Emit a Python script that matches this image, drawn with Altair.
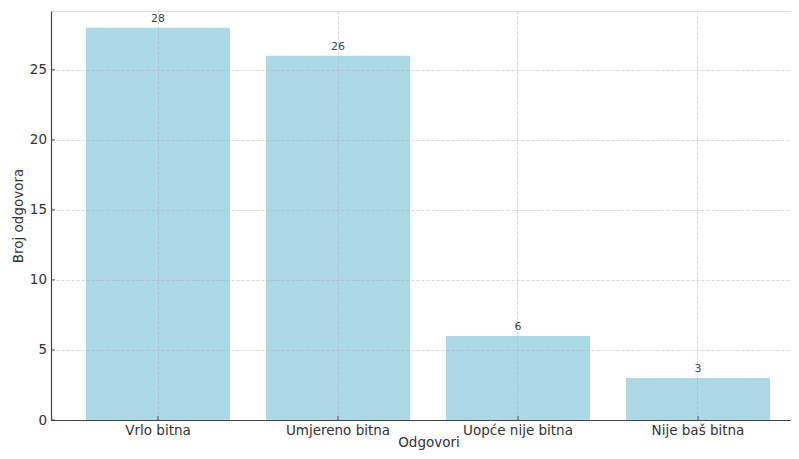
import altair as alt
import pandas as pd

categories = ["Vrlo bitna", "Umjereno bitna", "Uopće nije bitna", "Nije baš bitna"]
counts = [28, 26, 6, 3]
y_ticks = [0, 5, 10, 15, 20, 25]

df = pd.DataFrame({"Odgovori": categories, "Broj": counts})
ticks_df = pd.DataFrame({"t": y_ticks})

FONT = "DejaVu Sans"
TXT = "#333333"

x_scale = alt.Scale(domain=categories, paddingInner=0.2, paddingOuter=0.1556, align=0.625)
y_scale = alt.Scale(domain=[0, 29.2], nice=False, zero=True)

x_axis = alt.Axis(
    title="Odgovori", labelAngle=0, labelFont=FONT, labelFontSize=13.5, labelColor=TXT,
    titleFont=FONT, titleFontSize=13.5, titleColor=TXT, titleFontWeight="normal",
    ticks=False, tickSize=0, labelPadding=3, domainColor="#444444", domainWidth=1.2,
    grid=True, gridColor="#aaaaaa", gridOpacity=0.6, gridDash=[3, 2], gridWidth=0.8,
    titleY=26, titleBaseline="alphabetic", titleX=377.5, titleAlign="center", zindex=1,
)
y_axis = alt.Axis(
    title="Broj odgovora", values=y_ticks, labelFont=FONT, labelFontSize=13.5, labelColor=TXT,
    titleFont=FONT, titleFontSize=13.5, titleColor=TXT, titleFontWeight="normal",
    ticks=False, tickSize=0, labelPadding=4.5, domainColor="#444444", domainWidth=1.2,
    grid=True, gridColor="#aaaaaa", gridOpacity=0.6, gridDash=[3, 2], gridWidth=0.8,
    titleX=-29, titleBaseline="alphabetic", zindex=1,
)

bars = alt.Chart(df).mark_bar(color="#ADD8E6").encode(
    x=alt.X("Odgovori:N", scale=x_scale, axis=x_axis, sort=categories),
    y=alt.Y("Broj:Q", scale=y_scale, axis=y_axis),
)

labels = alt.Chart(df).mark_text(
    baseline="alphabetic", dy=-6, font=FONT, fontSize=11, color="#444444"
).encode(
    x=alt.X("Odgovori:N", scale=x_scale, sort=categories),
    y=alt.Y("Broj:Q", scale=y_scale),
    text="Broj:Q",
)

ytick_marks = alt.Chart(ticks_df).mark_rule(color="#444444", strokeWidth=1).encode(
    y=alt.Y("t:Q", scale=y_scale), x=alt.value(0), x2=alt.value(4)
)

xtick_marks = alt.Chart(df).mark_rule(color="#444444", strokeWidth=1).encode(
    x=alt.X("Odgovori:N", scale=x_scale, sort=categories), y=alt.value(409), y2=alt.value(405)
)

chart = alt.layer(bars, labels, ytick_marks, xtick_marks).properties(
    width=740, height=409,
    autosize=alt.AutoSizeParams(type="none"),
    padding={"left": 43, "top": 3, "right": 0, "bottom": 31},
).configure_view(stroke=None).configure(background="white")

chart.save("out.html", embed_options={"renderer": "svg", "actions": False})
